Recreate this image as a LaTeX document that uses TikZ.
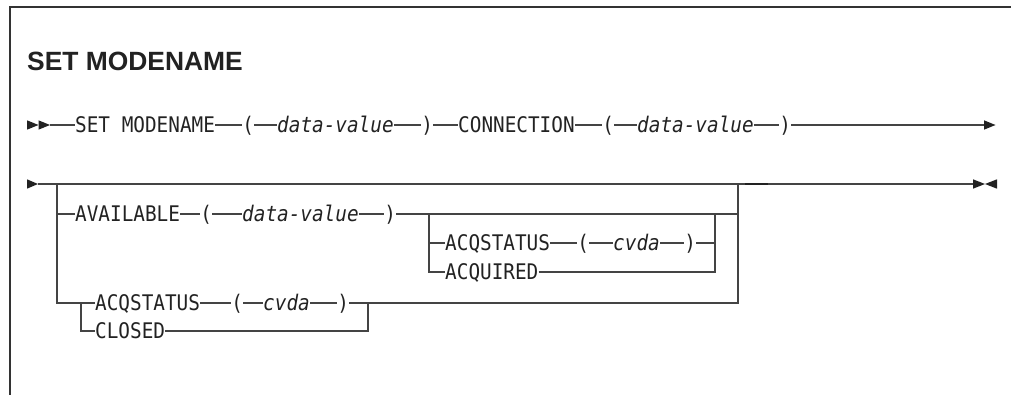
\documentclass[tikz,border=0pt]{standalone}
\usepackage{fontspec}
\setmonofont[FakeStretch=0.9]{DejaVu Sans Mono}
\newfontfamily\titlefont{Liberation Sans}
\newcommand\synfont{\ttfamily\fontsize{21.5}{25}\selectfont}
\definecolor{txt}{HTML}{222222}
\definecolor{rl}{HTML}{444444}
\definecolor{frm}{HTML}{333333}
\begin{document}
\begin{tikzpicture}[x=1pt,y=-1pt,
  lbl/.style={font=\synfont, inner sep=0pt, text height=15.6pt, text depth=0pt, anchor=west, text=txt},
  var/.style={lbl, font=\synfont\itshape},
  rail/.style={draw=rl, line width=1.1pt},
  tip/.style={fill=txt},
  frame/.style={draw=frm, line width=1.4pt}]
\useasboundingbox (0,0) rectangle (1011,395);
% frame
\draw[frame] (10,395) -- (10,7) -- (1011,7);
% title
\node[anchor=base west, font=\titlefont\bfseries\fontsize{26.4}{30}\selectfont, inner sep=0pt, text=txt] (title) at (27,71) {SET MODENAME};

% ---- line 1
\fill[tip] (27,120.3) -- (38.5,125) -- (27,129.7) -- cycle;
\fill[tip] (38.5,120.3) -- (50,125) -- (38.5,129.7) -- cycle;
\coordinate (h1) at (50,125);
\node[lbl] (s1) at (75,125) {SET MODENAME};
\node[lbl] (a1) at (242.2,125) {(};
\node[var] (d1) at (277,125) {data-value};
\node[lbl] (b1) at (421.2,125) {)};
\node[lbl] (c1) at (458,125) {CONNECTION};
\node[lbl] (a2) at (602.2,125) {(};
\node[var] (d2) at (637,125) {data-value};
\node[lbl] (b2) at (779.2,125) {)};
\coordinate (e1) at (984,125);
\draw[rail] (h1) -- (s1.west) (s1.east) -- (a1.west) (a1.east) -- (d1.west)
  (d1.east) -- (b1.west) (b1.east) -- (c1.west) (c1.east) -- (a2.west)
  (a2.east) -- (d2.west) (d2.east) -- (b2.west) (b2.east) -- (e1);
\fill[tip] (984,120.3) -- (995.5,125) -- (984,129.7) -- cycle;

% ---- line 2
\fill[tip] (27,179.3) -- (38,184) -- (27,188.7) -- cycle;
\coordinate (h2) at (38,184);
\coordinate (j1) at (57,184);
\coordinate (j2) at (738,184);
\coordinate (e2) at (973,184);
\draw[rail] (h2) -- (e2);
\draw[draw=txt, line width=2pt] (745,184) -- (768,184);
\fill[tip] (973,179.3) -- (985,184) -- (973,188.7) -- cycle;
\fill[tip] (997,179.3) -- (985,184) -- (997,188.7) -- cycle;

% row AVAILABLE
\coordinate (k1) at (57,214);
\coordinate (k2) at (738,214);
\node[lbl] (av) at (75,214) {AVAILABLE};
\node[lbl] (a3) at (200.2,214) {(};
\node[var] (d3) at (242,214) {data-value};
\node[lbl] (b3) at (384.2,214) {)};
\draw[rail] (k1) -- (av.west) (av.east) -- (a3.west) (a3.east) -- (d3.west)
  (d3.east) -- (b3.west) (b3.east) -- (k2);

% inner choice
\coordinate (n1) at (429,214);
\coordinate (n2) at (715,214);
\coordinate (o1) at (429,243);
\coordinate (o2) at (715,243);
\coordinate (n3) at (429,272);
\coordinate (n4) at (715,272);
\node[lbl] (q1) at (445,243) {ACQSTATUS};
\node[lbl] (a4) at (577.2,243) {(};
\node[var] (v4) at (613,243) {cvda};
\node[lbl] (b4) at (684.2,243) {)};
\node[lbl] (aq) at (445,272) {ACQUIRED};
\draw[rail] (o1) -- (q1.west) (q1.east) -- (a4.west) (a4.east) -- (v4.west)
  (v4.east) -- (b4.west) (b4.east) -- (o2);
\draw[rail] (n1) -- (n3) -- (aq.west) (aq.east) -- (n4) -- (n2);

% row ACQSTATUS / CLOSED
\coordinate (m1) at (57,303);
\coordinate (m2) at (738,303);
\coordinate (p1) at (81,303);
\coordinate (p2) at (368,303);
\coordinate (p3) at (81,331);
\coordinate (p4) at (368,331);
\node[lbl] (q2) at (95,303) {ACQSTATUS};
\node[lbl] (a5) at (231.2,303) {(};
\node[var] (v5) at (263,303) {cvda};
\node[lbl] (b5) at (337.2,303) {)};
\node[lbl] (cl) at (95,331) {CLOSED};
\draw[rail] (j1) -- (m1) -- (q2.west) (q2.east) -- (a5.west) (a5.east) -- (v5.west)
  (v5.east) -- (b5.west) (b5.east) -- (m2) -- (j2);
\draw[rail] (p1) -- (p3) -- (cl.west) (cl.east) -- (p4) -- (p2);
\end{tikzpicture}
\end{document}
